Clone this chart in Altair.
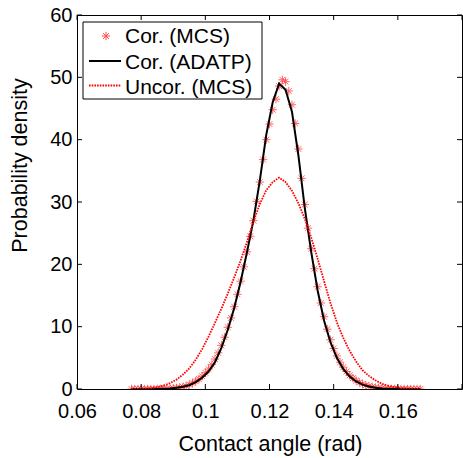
import altair as alt
import pandas as pd

# ---------------- data ----------------
# Cor. (MCS) – red asterisks
x_mcs = [0.077, 0.078, 0.079, 0.080, 0.081, 0.082, 0.083, 0.084, 0.085, 0.086,
         0.087, 0.088, 0.089, 0.090, 0.091, 0.092, 0.093, 0.094, 0.095, 0.096,
         0.097, 0.098, 0.099, 0.100, 0.101, 0.102, 0.103, 0.104, 0.105, 0.106,
         0.107, 0.108, 0.109, 0.110, 0.111, 0.112, 0.113, 0.114, 0.115, 0.116,
         0.117, 0.118, 0.119, 0.120, 0.121, 0.122, 0.123, 0.124, 0.125, 0.126,
         0.127, 0.128, 0.129, 0.130, 0.131, 0.132, 0.133, 0.134, 0.135, 0.136,
         0.137, 0.138, 0.139, 0.140, 0.141, 0.142, 0.143, 0.144, 0.145, 0.146,
         0.147, 0.148, 0.149, 0.150, 0.151, 0.152, 0.153, 0.154, 0.155, 0.156,
         0.157, 0.158, 0.159, 0.160, 0.161, 0.162, 0.163, 0.164, 0.165, 0.166,
         0.167]
y_cor_mcs = [0.0, 0.0, 0.0, 0.0, 0.0, 0.0, 0.0, 0.0, 0.01, 0.02,
             0.04, 0.06, 0.09, 0.13, 0.18, 0.25, 0.35, 0.5, 0.7, 0.95,
             1.25, 1.6, 2.05, 2.6, 3.2, 3.9, 4.8, 5.8, 7.0, 8.3,
             9.9, 11.4, 13.2, 15.2, 17.3, 19.6, 22.0, 24.5, 27.0, 30.1,
             33.2, 36.8, 40.0, 42.5, 44.8, 46.5, 48.6, 49.6, 49.3, 47.8,
             45.6, 42.6, 38.5, 33.8, 29.6, 25.8, 22.5, 19.3, 16.4, 13.8,
             11.6, 9.6, 7.9, 6.5, 5.3, 4.3, 3.5, 2.8, 2.2, 1.75,
             1.35, 1.05, 0.8, 0.6, 0.45, 0.33, 0.24, 0.17, 0.12, 0.08,
             0.05, 0.03, 0.02, 0.01, 0.0, 0.0, 0.0, 0.0, 0.0, 0.0,
             0.0]

# Cor. (ADATP) – black solid line
x_adatp = [0.077, 0.079, 0.081, 0.083, 0.085, 0.087, 0.089, 0.091, 0.093, 0.095,
           0.097, 0.099, 0.101, 0.103, 0.105, 0.107, 0.109, 0.111, 0.113, 0.115,
           0.117, 0.119, 0.121, 0.123, 0.125, 0.127, 0.129, 0.131, 0.133, 0.135,
           0.137, 0.139, 0.141, 0.143, 0.145, 0.147, 0.149, 0.151, 0.153, 0.155,
           0.157, 0.159, 0.161, 0.163, 0.165, 0.167]
y_cor_adatp = [0.0, 0.0, 0.0, 0.0, 0.02, 0.05, 0.1, 0.2, 0.35, 0.6,
               1.1, 1.8, 2.8, 4.3, 6.6, 9.5, 13.0, 17.2, 22.0, 27.1,
               33.5, 40.8, 46.0, 49.0, 48.0, 44.5, 37.5, 29.0, 22.0, 15.8,
               11.0, 7.5, 5.0, 3.2, 2.0, 1.2, 0.7, 0.4, 0.2, 0.1,
               0.05, 0.02, 0.0, 0.0, 0.0, 0.0]

# Uncor. (MCS) – red dotted line
x_unc = [0.077, 0.079, 0.081, 0.083, 0.085, 0.087, 0.089, 0.091, 0.093, 0.095,
         0.097, 0.099, 0.101, 0.103, 0.105, 0.107, 0.109, 0.111, 0.113, 0.115,
         0.117, 0.119, 0.121, 0.123, 0.125, 0.127, 0.129, 0.131, 0.133, 0.135,
         0.137, 0.139, 0.141, 0.143, 0.145, 0.147, 0.149, 0.151, 0.153, 0.155,
         0.157, 0.159, 0.161, 0.163, 0.165, 0.167]
y_unc_mcs = [0.0, 0.02, 0.05, 0.12, 0.3, 0.55, 0.95, 1.5, 2.3, 3.3,
             4.7, 6.4, 8.4, 10.6, 12.9, 15.3, 17.9, 20.6, 23.6, 26.9,
             29.7, 31.9, 33.2, 33.9, 33.2, 31.8, 29.8, 27.3, 24.3, 20.9,
             17.3, 13.8, 10.7, 8.2, 6.1, 4.4, 3.0, 2.1, 1.4, 0.85,
             0.5, 0.3, 0.15, 0.07, 0.03, 0.0]

x_label_values = [0.06, 0.08, 0.10, 0.12, 0.14, 0.16]
x_tick_values = [0.06, 0.08, 0.10, 0.12, 0.14, 0.16, 0.18]
y_tick_values = [0, 10, 20, 30, 40, 50, 60]
legend_labels = ["Cor. (MCS)", "Cor. (ADATP)", "Uncor. (MCS)"]
x_title = "Contact angle (rad)"
y_title = "Probability density"

# ---------------- layout ----------------
W, H = 385, 374
FONT = "Liberation Sans"
TICK_FS = 20
TITLE_FS = 21.5
LEG_FS = 21
TICK_LEN = 5

xs = alt.Scale(domain=[0.06, 0.18], nice=False, zero=False)
ys = alt.Scale(domain=[0, 60], nice=False, zero=False)

x_axis = alt.Axis(values=x_label_values, format="~g", grid=False, domain=False, ticks=False,
                  labelFont=FONT, labelFontSize=TICK_FS, labelColor="black", labelPadding=12,
                  labelFlush=False, labelOverlap=False,
                  titleFont=FONT, titleFontSize=TITLE_FS, titleFontWeight="normal", titleColor="black",
                  titleX=193, titleY=61, titleAlign="center", titleBaseline="alphabetic", titleAngle=0)
y_axis = alt.Axis(values=y_tick_values, grid=False, domain=False, ticks=False,
                  labelFont=FONT, labelFontSize=TICK_FS, labelColor="black", labelPadding=5,
                  labelFlush=False, labelOverlap=False,
                  titleFont=FONT, titleFontSize=TITLE_FS, titleFontWeight="normal", titleColor="black",
                  titleX=-51, titleY=150, titleAlign="center", titleBaseline="alphabetic", titleAngle=270)


def X():
    return alt.X("x:Q", scale=xs, axis=x_axis, title=x_title)


def Y():
    return alt.Y("y:Q", scale=ys, axis=y_axis, title=y_title)


df_mcs = pd.DataFrame({"x": x_mcs, "y": y_cor_mcs})
df_adatp = pd.DataFrame({"x": x_adatp, "y": y_cor_adatp})
df_unc = pd.DataFrame({"x": x_unc, "y": y_unc_mcs})
df_xt = pd.DataFrame({"x": x_tick_values})
df_yt = pd.DataFrame({"y": y_tick_values})
one = pd.DataFrame({"k": [0]})

ASTERISK = "M-1,0L1,0M0,-1L0,1M-0.7,-0.7L0.7,0.7M-0.7,0.7L0.7,-0.7"

mcs = alt.Chart(df_mcs).mark_point(shape=ASTERISK, size=70, stroke="#ff0000", strokeWidth=1,
                                   opacity=0.6, filled=False, clip=True).encode(x=X(), y=Y())
adatp = alt.Chart(df_adatp).mark_line(color="black", strokeWidth=2, clip=True).encode(x=X(), y=Y())
unc = alt.Chart(df_unc).mark_line(color="#ff0000", strokeWidth=1.8, strokeDash=[1.6, 1.1],
                                  clip=True).encode(x=X(), y=Y())

# inward ticks (MATLAB box style)
yt_left = alt.Chart(df_yt).mark_rule(color="black", strokeWidth=1).encode(
    y=Y(), x=alt.value(0), x2=alt.value(TICK_LEN))
yt_right = alt.Chart(df_yt).mark_rule(color="black", strokeWidth=1).encode(
    y=Y(), x=alt.value(W - TICK_LEN), x2=alt.value(W))
xt_bottom = alt.Chart(df_xt).mark_rule(color="black", strokeWidth=1).encode(
    x=X(), y=alt.value(H), y2=alt.value(H - TICK_LEN))
xt_top = alt.Chart(df_xt).mark_rule(color="black", strokeWidth=1).encode(
    x=X(), y=alt.value(0), y2=alt.value(TICK_LEN))

# legend (drawn inside the axes, MATLAB style)
leg_box = alt.Chart(one).mark_rect(fill="white", stroke="black", strokeWidth=1).encode(
    x=alt.value(6), x2=alt.value(185), y=alt.value(7), y2=alt.value(84))
leg_star = alt.Chart(one).mark_point(shape=ASTERISK, size=70, stroke="#ff0000", strokeWidth=1,
                                     opacity=0.7, filled=False).encode(
    x=alt.value(29), y=alt.value(21))
leg_black = alt.Chart(one).mark_rule(color="black", strokeWidth=2).encode(
    x=alt.value(12), x2=alt.value(44), y=alt.value(46))
leg_red = alt.Chart(one).mark_rule(color="#ff0000", strokeWidth=1.8, strokeDash=[1.6, 1.1]).encode(
    x=alt.value(12), x2=alt.value(44), y=alt.value(70.5))
leg_texts = [
    alt.Chart(one).mark_text(text=legend_labels[i], font=FONT, fontSize=LEG_FS, color="black",
                             align="left", baseline="alphabetic").encode(
        x=alt.value(48), y=alt.value(yy))
    for i, yy in enumerate([28, 53.5, 78.5])
]

chart = alt.layer(
    mcs, adatp, unc, yt_left, yt_right, xt_bottom, xt_top,
    leg_box, leg_star, leg_black, leg_red, *leg_texts
).properties(
    width=W, height=H,
    autosize=alt.AutoSizeParams(type="none"),
    padding={"left": 77, "top": 15, "right": 1, "bottom": 69},
    background="white",
).configure_view(stroke="black", strokeWidth=1)

chart.save("out.html", embed_options={"renderer": "svg", "actions": False})
